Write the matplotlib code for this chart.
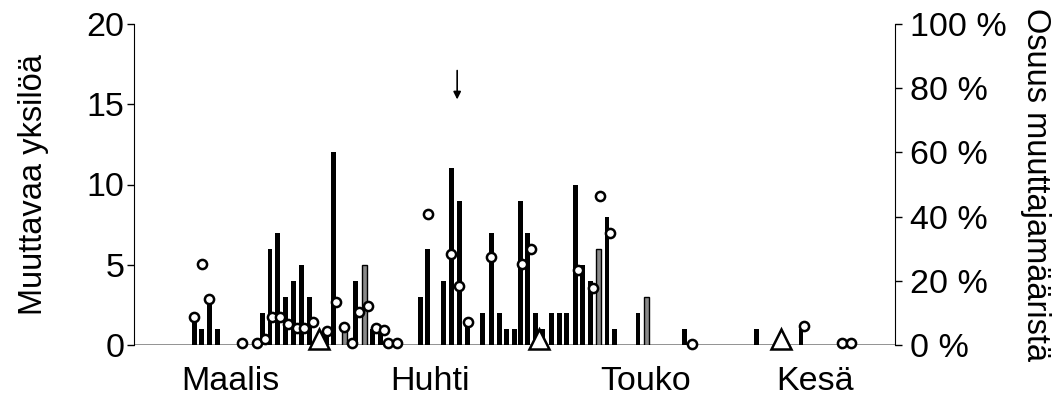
import matplotlib
matplotlib.use("Agg")
import matplotlib.pyplot as plt

plt.rcParams['font.family'] = ['Liberation Sans', 'DejaVu Sans']

# --- data (x in days from the left edge of the axis) ---
solid_days = [7.68, 8.62, 9.59, 10.61, 16.31, 17.32, 18.31, 19.24, 20.29, 21.36, 22.33,
              24.46, 25.39, 28.2, 30.36, 31.34, 36.43, 37.41, 39.4, 40.47, 41.44, 42.46,
              44.42, 45.48, 46.5, 47.48, 48.41, 49.17, 50.15, 51.17, 52.06, 53.21, 54.18,
              55.12, 56.18, 57.16, 58.17, 60.22, 61.15, 64.17, 70.1, 79.24, 84.93]
solid_counts = [2, 1, 3, 1, 2, 6, 7, 3, 4, 5, 3,
                1, 12, 4, 1, 1, 3, 6, 4, 11, 9, 1.5,
                2, 7, 2, 1, 1, 9, 7, 2, 1, 2, 2,
                2, 10, 5, 4, 8, 1, 2, 1, 1, 1]
grey_days = [26.75, 29.34, 59.11, 65.22]
grey_counts = [1, 5, 6, 3]

share_days = [7.68, 8.62, 9.59, 13.7, 15.67, 16.69, 17.62, 18.64, 19.66, 20.73, 21.7,
              22.77, 24.62, 25.73, 26.71, 27.73, 28.7, 29.77, 30.8, 31.77, 32.4, 33.47,
              37.41, 40.39, 41.44, 42.51, 45.44, 49.46, 50.53, 56.5, 58.47, 59.39, 60.55,
              71.05, 85.33, 90.2, 91.27]
share_pct = [8.8, 25.2, 14.3, 0.5, 0.5, 2.0, 8.6, 8.6, 6.4, 5.2, 5.2,
             7.3, 4.5, 13.5, 5.5, 0.6, 10.4, 12.1, 5.2, 4.7, 0.5, 0.5,
             40.7, 28.2, 18.5, 7.1, 27.5, 25.1, 29.9, 23.4, 17.7, 46.3, 34.8,
             0.3, 5.9, 0.5, 0.5]

triangle_days = [23.6, 51.6, 82.4]
triangle_pct = [2.0, 2.0, 2.0]

arrow_day = 41.15
arrow_from, arrow_to = 17.1, 15.3

month_pos = [12.23, 37.7, 65.1, 86.75]
month_labels = ['Maalis', 'Huhti', 'Touko', 'Kesä']

left_ticks = [0, 5, 10, 15, 20]
right_ticks = [0, 20, 40, 60, 80, 100]
right_labels = ['0 %', '20 %', '40 %', '60 %', '80 %', '100 %']

FS = 24.5
LFS = 23.5

fig = plt.figure(figsize=(10.58, 4.0), dpi=100)
ax = fig.add_axes([134/1058, 55/400, (895-134)/1058, (345-24)/400])
ax2 = ax.twinx()

ax.bar(solid_days, solid_counts, width=0.62, color='black', linewidth=0, zorder=2)
ax.bar(grey_days, grey_counts, width=0.62, facecolor='#8a8a8a', edgecolor='black',
       linewidth=1.0, zorder=2)

ax2.plot(share_days, share_pct, linestyle='none', marker='o', ms=6.6, mfc='white',
         mec='black', mew=1.8, zorder=5, clip_on=False)
ax2.plot(triangle_days, triangle_pct, linestyle='none', marker='^', ms=14.5, mfc='white',
         mec='black', mew=1.8, zorder=6, clip_on=False)

ax.annotate('', xy=(arrow_day, arrow_to), xytext=(arrow_day, arrow_from),
            arrowprops=dict(arrowstyle='-|>', color='black', lw=1.2, mutation_scale=11,
                            shrinkA=0, shrinkB=0))

ax.set_xlim(0, 96.9)
ax.set_ylim(0, 20)
ax2.set_ylim(0, 100)

ax.set_yticks(left_ticks)
ax.set_yticklabels([str(t) for t in left_ticks], fontsize=FS)
ax2.set_yticks(right_ticks)
ax2.set_yticklabels(right_labels, fontsize=FS)

ax.set_xticks(month_pos)
ax.set_xticklabels(month_labels, fontsize=FS)
ax.tick_params(axis='x', length=0, pad=15)
ax.tick_params(axis='y', direction='out', length=5, width=1, pad=2)
ax2.tick_params(axis='y', direction='out', length=5, width=1, pad=6)

for a in (ax, ax2):
    a.spines['top'].set_visible(False)
    a.spines['bottom'].set_visible(False)
    a.patch.set_visible(False)
ax.spines['right'].set_visible(False)
ax2.spines['left'].set_visible(False)
ax.axhline(0, color='#808080', lw=1.2, zorder=1)

ax.set_ylabel('Muuttavaa yksilöä', fontsize=LFS, labelpad=27)
ax2.set_ylabel('Osuus muuttajamääristä', fontsize=LFS, rotation=270, labelpad=32)

fig.savefig('out.png', dpi=100)
